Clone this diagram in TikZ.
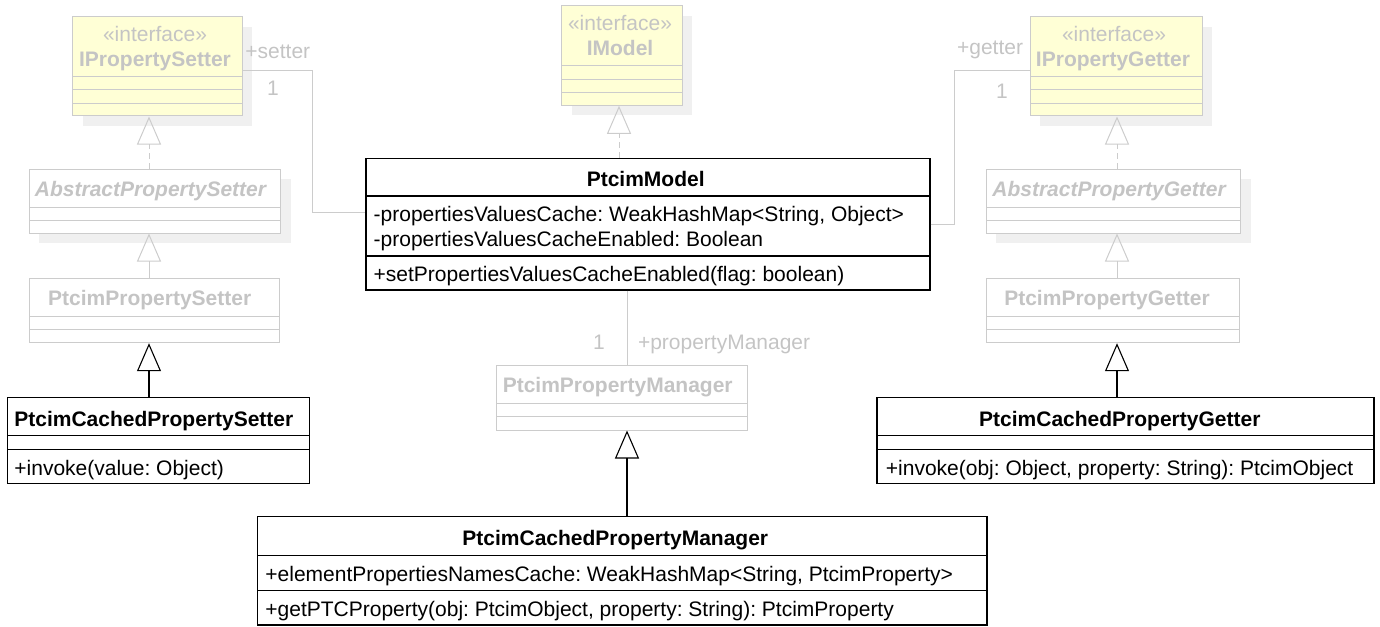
\documentclass[tikz,border=0pt]{standalone}
\usepackage{fontspec}
\setmainfont{Liberation Sans}
\usetikzlibrary{positioning,fit,shadows,arrows.meta,calc}
\frenchspacing

\definecolor{fadegray}{RGB}{204,204,204}
\definecolor{fadetext}{RGB}{196,196,196}
\definecolor{ifyellow}{RGB}{255,255,214}
\definecolor{shadowgray}{RGB}{240,240,240}

\tikzset{
  every node/.style={font=\fontsize{10.5}{12.15}\selectfont, inner sep=0pt},
  cbox/.style={draw=black, line width=0.55pt, fill=white},
  fbox/.style={draw=fadegray, line width=0.5pt, fill=white},
  ibox/.style={fbox, fill=ifyellow},
  clsshadow/.style={drop shadow={shadow xshift=5pt, shadow yshift=-5pt, fill=shadowgray, opacity=1}},
  ctext/.style={text=black},
  ftext/.style={text=fadetext},
  cline/.style={draw=black, line width=0.55pt},
  fline/.style={draw=fadegray, line width=0.5pt},
  genarrow/.style={-{Triangle[open, width=12pt, length=14pt]}},
  realarrow/.style={genarrow, dash pattern=on 3pt off 2pt}
}

\begin{document}
\begin{tikzpicture}[x=0.5pt, y=-0.5pt]
    \useasboundingbox (0,0) rectangle (1380,626);

    % interfaces
    \node[ibox, clsshadow, fit={(72.7,16.7) (242,116)}] (ips) {};
    \foreach \y in {76.7,90,104} \draw[fline] (72.7,\y) -- (242,\y);
    \node[ftext, anchor=base] (ipsStereo) at (155,41.7) {«interface»};
    \node[ftext, anchor=base] (ipsName) at (155,66.3) {\textbf{IPropertySetter}};

    \node[ibox, clsshadow, fit={(561.7,5.7) (682.3,105.3)}] (imodel) {};
    \foreach \y in {65.7,79.3,93} \draw[fline] (561.7,\y) -- (682.3,\y);
    \node[ftext, anchor=base] (imodelStereo) at (620,30.7) {«interface»};
    \node[ftext, anchor=base] (imodelName) at (620,56) {\textbf{IModel}};

    \node[ibox, clsshadow, fit={(1030,16.7) (1202,116)}] (ipg) {};
    \foreach \y in {76.7,90,104} \draw[fline] (1030,\y) -- (1202,\y);
    \node[ftext, anchor=base] (ipgStereo) at (1114,41.7) {«interface»};
    \node[ftext, anchor=base] (ipgName) at (1113,66.3) {\textbf{IPropertyGetter}};

    % abstract and base classes
    \node[fbox, clsshadow, fit={(29,169) (280.7,233)}] (aps) {};
    \foreach \y in {207.3,220.7} \draw[fline] (29,\y) -- (280.7,\y);
    \node[ftext, anchor=base] (apsName) at (151,196.7) {\textbf{\itshape AbstractPropertySetter}};

    \node[fbox, clsshadow, fit={(986.3,169) (1240.7,233)}] (apg) {};
    \foreach \y in {207.3,220.7} \draw[fline] (986.3,\y) -- (1240.7,\y);
    \node[ftext, anchor=base] (apgName) at (1109.5,196.7) {\textbf{\itshape AbstractPropertyGetter}};

    \node[fbox, fit={(29,278) (279.3,342.7)}] (ps) {};
    \foreach \y in {316.3,329.3} \draw[fline] (29,\y) -- (279.3,\y);
    \node[ftext, anchor=base] (psName) at (149.7,305.7) {\textbf{PtcimPropertySetter}};

    \node[fbox, fit={(986,278) (1239,342.7)}] (pg) {};
    \foreach \y in {316.3,329.3} \draw[fline] (986,\y) -- (1239,\y);
    \node[ftext, anchor=base] (pgName) at (1107,305.7) {\textbf{PtcimPropertyGetter}};

    \node[fbox, fit={(496.4,365) (747.6,430)}] (ppm) {};
    \foreach \y in {403.3,416.7} \draw[fline] (496.4,\y) -- (747.6,\y);
    \node[ftext, anchor=base] (ppmName) at (617.7,392.7) {\textbf{PtcimPropertyManager}};

    % model
    \node[cbox, fit={(366,158.3) (930,290)}] (pm) {};
    \foreach \y in {196,256} \draw[cline] (366,\y) -- (930,\y);
    \node[ctext, anchor=base] (pmName) at (645.7,186) {\textbf{PtcimModel}};
    \node[ctext, anchor=base west] (pmAttrA) at (373.3,221.7) {-propertiesValuesCache: WeakHashMap<String, Object>};
    \node[ctext, anchor=base west] (pmAttrB) at (373.3,246) {-propertiesValuesCacheEnabled: Boolean};
    \node[ctext, anchor=base west] (pmOp) at (373.3,281) {+setPropertiesValuesCacheEnabled(flag: boolean)};

    % cached classes
    \node[cbox, fit={(7.3,397.7) (309.3,483.3)}] (cps) {};
    \foreach \y in {435.7,449.3} \draw[cline] (7.3,\y) -- (309.3,\y);
    \node[ctext, anchor=base west] (cpsName) at (14,426) {\textbf{PtcimCachedPropertySetter}};
    \node[ctext, anchor=base west] (cpsOp) at (14,475) {+invoke(value: Object)};

    \node[cbox, fit={(877,397.7) (1374,483.3)}] (cpg) {};
    \foreach \y in {435.7,449.3} \draw[cline] (877,\y) -- (1374,\y);
    \node[ctext, anchor=base] (cpgName) at (1119.8,426) {\textbf{PtcimCachedPropertyGetter}};
    \node[ctext, anchor=base west] (cpgOp) at (885.5,475) {+invoke(obj: Object, property: String): PtcimObject};

    \node[cbox, fit={(257.3,516.7) (987,625)}] (cpm) {};
    \foreach \y in {555.7,590.7} \draw[cline] (257.3,\y) -- (987,\y);
    \node[ctext, anchor=base] (cpmName) at (615.3,545) {\textbf{PtcimCachedPropertyManager}};
    \node[ctext, anchor=base west] (cpmAttr) at (265,581) {+elementPropertiesNamesCache: WeakHashMap<String, PtcimProperty>};
    \node[ctext, anchor=base west] (cpmOp) at (265,616) {+getPTCProperty(obj: PtcimObject, property: String): PtcimProperty};

    % associations
    \coordinate (setbend) at (312,71);
    \draw[fline] (ips.east |- setbend) -- (setbend) |- ([yshift=6pt]pm.west);
    \node[ftext, anchor=base west] (setRole) at (245,58.3) {+setter};
    \node[ftext, anchor=base west] (setMult) at (266.7,96) {1};

    \coordinate (getbend) at (954,71);
    \draw[fline] (pm.east) -| (getbend) -- (ipg.west |- getbend);
    \node[ftext, anchor=base west] (getRole) at (956.7,55) {+getter};
    \node[ftext, anchor=base west] (getMult) at (995.7,98.3) {1};

    \coordinate (mgrx) at (627,0);
    \draw[fline] (pm.south -| mgrx) -- (ppm.north -| mgrx);
    \node[ftext, anchor=base] (mgrMult) at (599,349.3) {1};
    \node[ftext, anchor=base west] (mgrRole) at (637.6,349.3) {+propertyManager};

    % realization and generalization
    \coordinate (setx) at (149,0);
    \draw[fline, realarrow] (aps.north -| setx) -- (ips.south -| setx);
    \draw[fline, genarrow] (ps.north -| setx) -- (aps.south -| setx);
    \draw[cline, genarrow] (cps.north -| setx) -- (ps.south -| setx);

    \coordinate (getx) at (1117,0);
    \draw[fline, realarrow] (apg.north -| getx) -- (ipg.south -| getx);
    \draw[fline, genarrow] (pg.north -| getx) -- (apg.south -| getx);
    \draw[cline, genarrow] (cpg.north -| getx) -- (pg.south -| getx);

    \coordinate (modelx) at (619,0);
    \draw[fline, realarrow] (pm.north -| modelx) -- (imodel.south -| modelx);
    \draw[cline, genarrow] (cpm.north -| mgrx) -- (ppm.south -| mgrx);
\end{tikzpicture}
\end{document}
